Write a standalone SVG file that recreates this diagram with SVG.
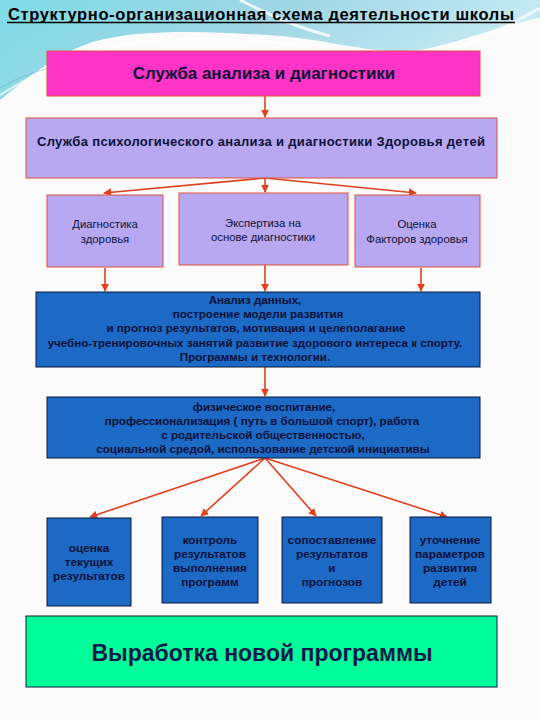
<svg xmlns="http://www.w3.org/2000/svg" width="540" height="720" viewBox="0 0 540 720">
<defs>
<linearGradient id="bg" x1="0" y1="0" x2="1" y2="0.3">
<stop offset="0" stop-color="#7fdbe6"/>
<stop offset="0.5" stop-color="#9fd6e6"/>
<stop offset="1" stop-color="#c9ecf4"/>
</linearGradient>
<marker id="ah" viewBox="0 0 10 10" refX="9" refY="5" markerWidth="5" markerHeight="5" orient="auto">
<path d="M0,0 L10,5 L0,10 z" fill="#e0401e"/>
</marker>
<style>
.t{font-family:"Liberation Sans",Arial,sans-serif;text-anchor:middle;}
.b{font-weight:bold;}
.c{stroke:#e0401e;stroke-width:1.6;fill:none;marker-end:url(#ah);}
.pur{fill:#b8a8f2;stroke:#e0503a;stroke-width:1;}
.blu{fill:#1c69c6;stroke:#0a1a3a;stroke-width:1;}
.nav{fill:#0c1238;}
</style>
</defs>
<rect width="540" height="720" fill="#fbfbfb"/>
<path d="M0,0 H540 V18 C500,25 470,40 420,50 C380,56 330,40 280,36 C220,32 150,28 100,40 C60,50 25,80 0,100 Z" fill="url(#bg)"/>
<path d="M240,0 C280,20 300,28 330,36" stroke="#ffffff" stroke-width="3" fill="none" opacity="0.8"/>
<path d="M0,95 C40,70 80,50 140,42 C200,36 260,40 300,45" stroke="#ffffff" stroke-width="2" fill="none" opacity="0.7"/>
<path d="M0,88 C30,70 70,60 120,60" stroke="#5aa8b8" stroke-width="0.8" fill="none" opacity="0.6"/>
<path d="M440,55 C480,40 510,25 540,8" stroke="#ffffff" stroke-width="3" fill="none" opacity="0.7"/>
<g id="title">
<text class="t b" x="261" y="20" font-size="16.5" fill="#000" textLength="506" lengthAdjust="spacing">Структурно-организационная  схема деятельности школы</text>
<line x1="7" y1="22.5" x2="515" y2="22.5" stroke="#000" stroke-width="1.3"/>
</g>
<g id="connectors">
<line class="c" x1="265" y1="96" x2="265" y2="117"/>
<line class="c" x1="265" y1="178" x2="104" y2="193"/>
<line class="c" x1="265" y1="178" x2="265" y2="192"/>
<line class="c" x1="265" y1="178" x2="416" y2="193"/>
<line class="c" x1="105" y1="268" x2="105" y2="291"/>
<line class="c" x1="265" y1="265" x2="265" y2="291"/>
<line class="c" x1="421" y1="268" x2="421" y2="291"/>
<line class="c" x1="265" y1="367" x2="265" y2="396"/>
<line class="c" x1="265" y1="458" x2="90" y2="517"/>
<line class="c" x1="265" y1="458" x2="201" y2="516"/>
<line class="c" x1="265" y1="458" x2="316" y2="516"/>
<line class="c" x1="265" y1="458" x2="447" y2="517"/>
</g>
<g id="n1">
<rect x="47" y="51" width="433" height="45" fill="#ff33c6" stroke="#e0503a" stroke-width="1"/>
<text class="t b nav" x="264" y="79" font-size="17">Служба анализа и диагностики</text>
</g>
<g id="n2">
<rect class="pur" x="26" y="118" width="471" height="60"/>
<text class="t b nav" x="261" y="146" font-size="13" textLength="448" lengthAdjust="spacing">Служба психологического анализа и диагностики Здоровья детей</text>
</g>
<g id="n3">
<rect class="pur" x="47" y="195" width="116" height="72"/>
<text class="t nav" x="105" y="228" font-size="11.3">Диагностика</text>
<text class="t nav" x="105" y="243" font-size="11.3">здоровья</text>
</g>
<g id="n4">
<rect class="pur" x="179" y="193" width="169" height="72"/>
<text class="t nav" x="263" y="227" font-size="11.3">Экспертиза на</text>
<text class="t nav" x="263" y="241" font-size="11.3">основе диагностики</text>
</g>
<g id="n5">
<rect class="pur" x="355" y="195" width="125" height="72"/>
<text class="t nav" x="417" y="228" font-size="11.3">Оценка</text>
<text class="t nav" x="417" y="243" font-size="11.3">Факторов здоровья</text>
</g>
<g id="n6">
<rect class="blu" x="36" y="292" width="444" height="75"/>
<g class="t b nav" font-size="11.6">
<text x="255" y="304">Анализ данных,</text>
<text x="258" y="318">построение модели развития</text>
<text x="256" y="332">и прогноз результатов, мотивация и целеполагание</text>
<text x="255" y="347">учебно-тренировочных занятий  развитие здорового интереса к спорту.</text>
<text x="255" y="361">Программы и технологии.</text>
</g>
</g>
<g id="n7">
<rect class="blu" x="47" y="397" width="433" height="61"/>
<g class="t b nav" font-size="11.6">
<text x="264" y="411">физическое воспитание,</text>
<text x="262" y="425">профессионализация ( путь в большой спорт), работа</text>
<text x="263" y="439">с родительской общественностью,</text>
<text x="263" y="453">социальной средой, использование детской инициативы</text>
</g>
</g>
<g id="n8">
<rect class="blu" x="47" y="518" width="84" height="88"/>
<g class="t b nav" font-size="11.8">
<text x="89" y="552">оценка</text>
<text x="89" y="566">текущих</text>
<text x="89" y="580">результатов</text>
</g>
</g>
<g id="n9">
<rect class="blu" x="162" y="517" width="96" height="86"/>
<g class="t b nav" font-size="11.8">
<text x="210" y="544">контроль</text>
<text x="210" y="558">результатов</text>
<text x="210" y="572">выполнения</text>
<text x="210" y="586">программ</text>
</g>
</g>
<g id="n10">
<rect class="blu" x="282" y="517" width="100" height="86"/>
<g class="t b nav" font-size="11.8">
<text x="332" y="544">сопоставление</text>
<text x="332" y="558">результатов</text>
<text x="332" y="572">и</text>
<text x="332" y="586">прогнозов</text>
</g>
</g>
<g id="n11">
<rect class="blu" x="410" y="517" width="81" height="86"/>
<g class="t b nav" font-size="11.8">
<text x="450" y="544">уточнение</text>
<text x="450" y="558">параметров</text>
<text x="450" y="572">развития</text>
<text x="450" y="586">детей</text>
</g>
</g>
<g id="n12">
<rect x="26" y="616" width="471" height="71" fill="#00fd99" stroke="#0a1a3a" stroke-width="1"/>
<text class="t b" x="262" y="661" font-size="23" fill="#10184a">Выработка новой программы</text>
</g>
</svg>
